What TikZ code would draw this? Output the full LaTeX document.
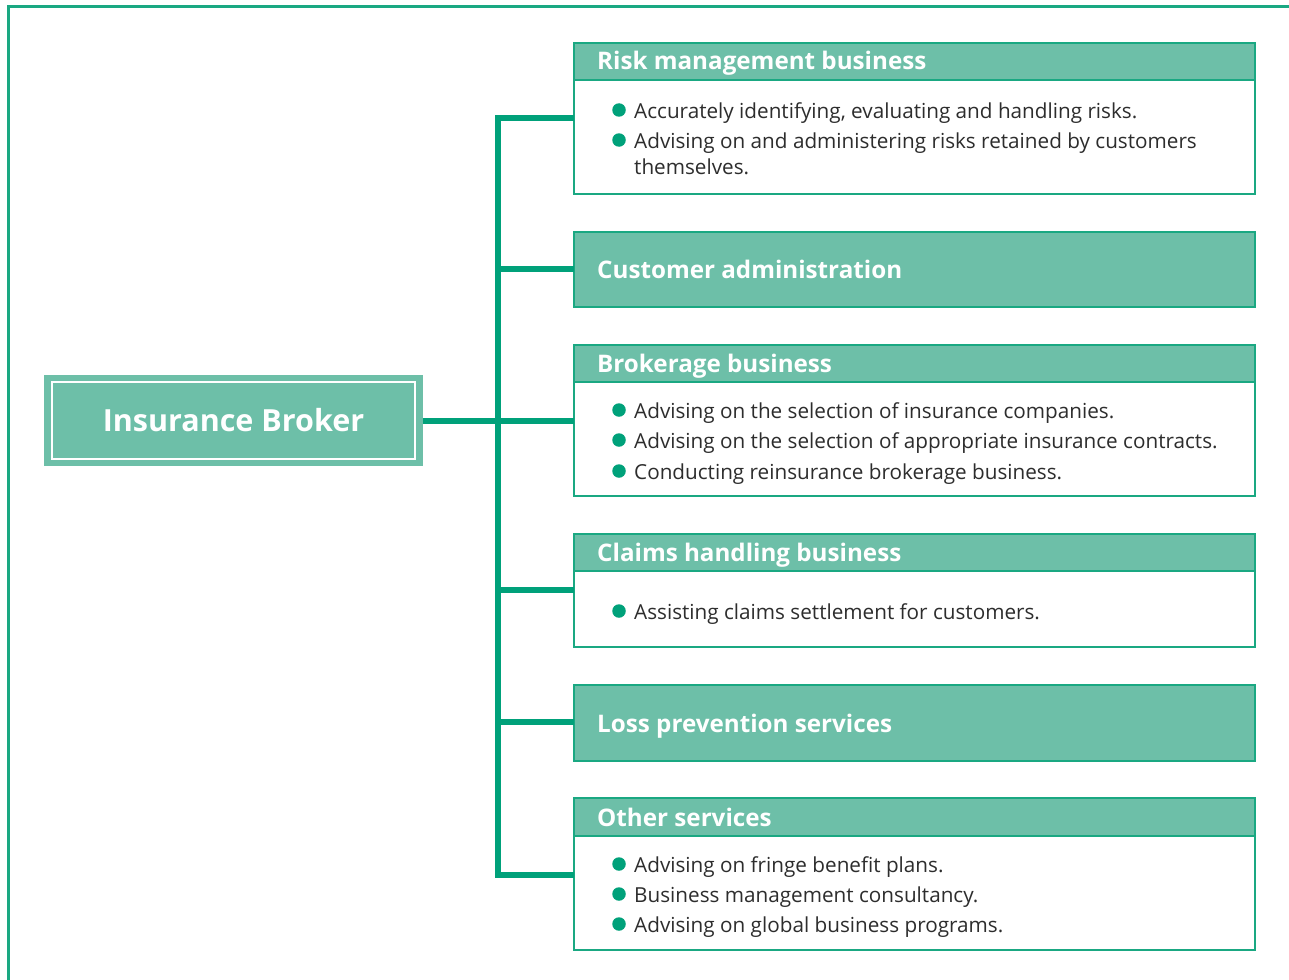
\documentclass[tikz,border=0pt]{standalone}
\usepackage{fontspec}
\setmainfont{Open Sans}
\definecolor{hdrfill}{RGB}{109,191,168}
\definecolor{boxline}{RGB}{26,168,130}
\definecolor{conncol}{RGB}{0,161,122}
\definecolor{txt}{RGB}{45,45,45}
\begin{document}
\begin{tikzpicture}[x=1pt,y=-1pt,
  hdr/.style={draw=boxline, fill=hdrfill, line width=1.5pt, anchor=north west, inner sep=0pt, outer sep=0pt, minimum width=681pt},
  bodybox/.style={draw=boxline, fill=white, line width=1.5pt, anchor=north west, inner sep=0pt, outer sep=0pt, minimum width=681pt},
  htext/.style={anchor=base west, text=white, font=\fontsize{24.2}{28}\selectfont\bfseries, inner sep=0pt},
  btext/.style={anchor=base west, text=txt, font=\fontsize{20.7}{25}\selectfont, inner sep=0pt, align=left},
  dot/.style={circle, fill=conncol, inner sep=0pt, minimum size=13.5pt},
  conn/.style={draw=conncol, line width=6pt, line join=miter, line cap=butt},
  frame/.style={draw=boxline, line width=2.5pt}
]
\useasboundingbox (0,0) rectangle (1289,979);
\draw[frame] (8.5,1000) -- (8.5,6.5) -- (1300,6.5);

% Insurance Broker
\node[draw=none, fill=hdrfill, minimum width=379pt, minimum height=91pt, inner sep=0pt, outer sep=0pt, anchor=north west] (ib) at (44,375) {};
\node[draw=white, line width=1.5pt, minimum width=363pt, minimum height=77pt, inner sep=0pt, text=white, font=\fontsize{30.5}{34}\selectfont\bfseries] (ibin) at (ib.center) {Insurance Broker};

% Risk management business
\node[hdr, minimum height=37pt] (rmh) at (574,43) {};
\node[bodybox, minimum height=114pt] (rmb) at (574,80) {};
\node[htext] (rmt) at (597,70) {Risk management business};
\node[dot] (rmd1) at (619,110) {};
\node[btext] (rm1) at (634,118) {Accurately identifying, evaluating and handling risks.};
\node[dot] (rmd2) at (619,140) {};
\node[btext] (rm2) at (634,148) {Advising on and administering risks retained by customers};
\node[btext] (rm3) at (634,174) {themselves.};

% Customer administration
\node[hdr, minimum height=75pt] (cah) at (574,232) {};
\node[htext] (cat) at (597,278) {Customer administration};

% Brokerage business
\node[hdr, minimum height=37pt] (bbh) at (574,345) {};
\node[bodybox, minimum height=114pt] (bbb) at (574,382) {};
\node[htext] (bbt) at (597,372) {Brokerage business};
\node[dot] (bbd1) at (619,410) {};
\node[btext] (bb1) at (634,418) {Advising on the selection of insurance companies.};
\node[dot] (bbd2) at (619,440) {};
\node[btext] (bb2) at (634,448) {Advising on the selection of appropriate insurance contracts.};
\node[dot] (bbd3) at (619,471) {};
\node[btext] (bb3) at (634,479) {Conducting reinsurance brokerage business.};

% Claims handling business
\node[hdr, minimum height=37pt] (chh) at (574,534) {};
\node[bodybox, minimum height=76pt] (chb) at (574,571) {};
\node[htext] (cht) at (597,561) {Claims handling business};
\node[dot] (chd1) at (619,611) {};
\node[btext] (ch1) at (634,619) {Assisting claims settlement for customers.};

% Loss prevention services
\node[hdr, minimum height=76pt] (lph) at (574,685) {};
\node[htext] (lpt) at (597,732) {Loss prevention services};

% Other services
\node[hdr, minimum height=38pt] (osh) at (574,798) {};
\node[bodybox, minimum height=114pt] (osb) at (574,836) {};
\node[htext] (ost) at (597,826) {Other services};
\node[dot] (osd1) at (619,864) {};
\node[btext] (os1) at (634,872) {Advising on fringe benefit plans.};
\node[dot] (osd2) at (619,894) {};
\node[btext] (os2) at (634,902) {Business management consultancy.};
\node[dot] (osd3) at (619,924) {};
\node[btext] (os3) at (634,932) {Advising on global business programs.};

% connectors
\coordinate (tt) at (498,118);
\coordinate (tb) at (498,875);
\draw[conn] (rmb.west |- tt) -- (tt) -- (tb) -- (osb.west |- tb);
\draw[conn] (tt |- 0,269) -- (cah.west |- 0,269);
\draw[conn] (ib.east) -- (bbb.west |- ib.east);
\draw[conn] (tt |- 0,590) -- (chb.west |- 0,590);
\draw[conn] (tt |- 0,722) -- (lph.west |- 0,722);
\end{tikzpicture}
\end{document}
